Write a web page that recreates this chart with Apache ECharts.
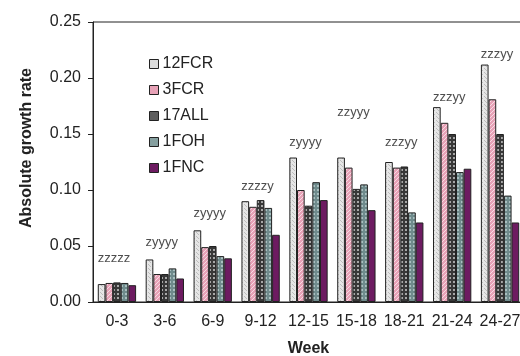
<!DOCTYPE html>
<html><head><meta charset="utf-8">
<script src="https://cdn.jsdelivr.net/npm/echarts@6/dist/echarts.min.js"></script>
<style>html,body{margin:0;padding:0;background:#fff}#c{width:520px;height:356px}</style>
</head><body><div id="c"></div>
<script>
const weeks = ['0-3','3-6','6-9','9-12','12-15','15-18','18-21','21-24','24-27'];
const seriesNames = ['12FCR','3FCR','17ALL','1FOH','1FNC'];
const v12FCR = [0.016,0.038,0.064,0.090,0.129,0.129,0.125,0.174,0.212];
const v3FCR  = [0.017,0.025,0.049,0.085,0.100,0.120,0.120,0.160,0.181];
const v17ALL = [0.0175,0.025,0.050,0.091,0.086,0.101,0.121,0.150,0.150];
const v1FOH  = [0.017,0.030,0.041,0.084,0.107,0.105,0.080,0.116,0.095];
const v1FNC  = [0.015,0.021,0.039,0.060,0.091,0.082,0.071,0.119,0.071];
const groupLetters = ['zzzzz','zyyyy','zyyyy','zzzzy','zyyyy','zzyyy','zzzyy','zzzyy','zzzyy'];
const letterHeights = [0.039,0.053,0.079,0.103,0.1425,0.169,0.1425,0.183,0.221];
const yTicks = [0,0.05,0.10,0.15,0.20,0.25];

function pattern(bg, fg, kind){
  const c = document.createElement('canvas');
  c.width = 4; c.height = 4;
  const g = c.getContext('2d');
  g.fillStyle = bg; g.fillRect(0,0,4,4);
  g.fillStyle = fg;
  if (kind === 'dots') { g.fillRect(0,0,1,1); g.fillRect(2,2,1,1); g.fillRect(1,1,1,1);}
  else if (kind === 'dots2') { g.fillRect(1,1,2,2); }
  else if (kind === 'hatch') { g.fillRect(3,0,1,1); g.fillRect(2,1,1,1); g.fillRect(1,2,1,1); g.fillRect(0,3,1,1); }
  return {image: c, repeat: 'repeat'};
}
const fills = [
  pattern('#e6e6e6','#bdbdbd','dots'),
  pattern('#e7a2b7','#f7dbe3','hatch'),
  pattern('#383838','#a8a8a8','dots2'),
  pattern('#6f8b8c','#a9bfc0','dots2'),
  '#6d1b61'
];
const legendColors = ['#dcdcdc','#e7a2b7','#5e5e5e','#86a0a0','#6d1b61'];
const allVals = [v12FCR, v3FCR, v17ALL, v1FOH, v1FNC];

const chart = echarts.init(document.getElementById('c'), null, {renderer:'canvas'});
const font = 'Liberation Sans, Arial, Helvetica, sans-serif';
const series = seriesNames.map((n,i)=>({
  name: n, type: 'bar', data: allVals[i],
  barGap: '0%', barCategoryGap: '20%',
  itemStyle: {color: fills[i], borderColor: '#222', borderWidth: 1},
  emphasis: {disabled: true}
}));
series.push({
  type: 'scatter', symbolSize: 0, silent: true,
  data: weeks.map((w,i)=>[w, letterHeights[i], groupLetters[i]]),
  label: {show: true, position: 'inside', offset: [-3,0], formatter: p => p.data[2],
          color: '#222', fontSize: 13, fontFamily: font}
});
chart.setOption({
  animation: false,
  textStyle: {fontFamily: font},
  grid: {left: 93, top: 22, width: 431, bottom: 54, show: true, borderColor: '#222', borderWidth: 1,
         outerBoundsMode: 'none', containLabel: false},
  legend: {
    orient: 'vertical', left: 144, top: 51, itemWidth: 9, itemHeight: 9, itemGap: 10,
    icon: 'rect',
    data: seriesNames.map((n,i)=>({name:n, itemStyle:{color: legendColors[i], borderColor:'#222', borderWidth:1}})),
    textStyle: {fontSize: 16, color: '#222', fontFamily: font, padding: [0,0,0,-1]}
  },
  xAxis: {
    type: 'category', data: weeks,
    name: 'Week', nameLocation: 'middle', nameGap: 39,
    nameTextStyle: {fontSize: 16, fontWeight: 'bold', color: '#222', fontFamily: font},
    axisLine: {lineStyle: {color: '#222'}},
    axisTick: {length: 5, lineStyle: {color: '#222'}},
    axisLabel: {fontSize: 16, color: '#222', margin: 12, fontFamily: font, interval: 0, hideOverlap: false}
  },
  yAxis: {
    type: 'value', min: 0, max: 0.25, interval: 0.05,
    name: 'Absolute growth rate', nameLocation: 'middle', nameGap: 58,
    nameTextStyle: {fontSize: 16, fontWeight: 'bold', color: '#222', fontFamily: font, padding: [0,0,0,28]},
    axisLine: {show: true, lineStyle: {color: '#222'}},
    axisTick: {show: true, length: 5, lineStyle: {color: '#222'}},
    splitLine: {show: false},
    axisLabel: {fontSize: 16, color: '#222', margin: 12, fontFamily: font, formatter: v => v.toFixed(2)}
  },
  series: series
});
</script></body></html>
